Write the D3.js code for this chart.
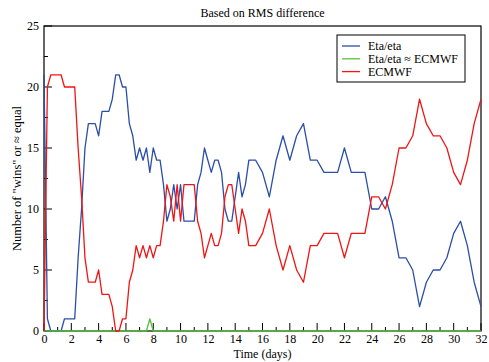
<!DOCTYPE html>
<html><head><meta charset="utf-8">
<script src="https://cdn.jsdelivr.net/npm/d3@7"></script>
<style>body{margin:0;background:#fff}svg{display:block}text{font-family:"Liberation Serif","Times New Roman",serif;fill:#000}</style>
</head><body><svg id="c" width="489" height="362"></svg>
<script>
const days = [0,0.25,0.5,0.75,1,1.25,1.5,1.75,2,2.25,2.5,2.75,3,3.25,3.5,3.75,4,4.25,4.5,4.75,5,5.25,5.5,5.75,6,6.25,6.5,6.75,7,7.25,7.5,7.75,8,8.25,8.5,8.75,9,9.25,9.5,9.75,10,10.25,10.5,10.75,11,11.25,11.5,11.75,12,12.25,12.5,12.75,13,13.25,13.5,13.75,14,14.25,14.5,14.75,15,
  15.5,16,16.5,17,17.5,18,18.5,19,19.5,20,20.5,21,21.5,22,22.5,23,23.5,24,24.5,25,25.5,26,26.5,27,27.5,28,28.5,29,29.5,30,30.5,31,31.5,32];
const etaEta = [21,1,0,0,0,0,1,1,1,1,6,10,15,17,17,17,16,18,18,18,19,21,21,20,20,17,16,14,15,14,15,13,15,14,14,12,9,10,12,10,12,9,9,9,9,12,13,15,14,13,14,14,13,10,9,9,11,13,11,12,14,
  14,13,11,14,16,14,16,17,14,14,13,13,13,15,13,13,13,10,10,11,9,6,6,5,2,4,5,5,6,8,9,7,4,2];
const equalVals = [0,0,0,0,0,0,0,0,0,0,0,0,0,0,0,0,0,0,0,0,0,0,0,0,0,0,0,0,0,0,0,1,0,0,0,0,0,0,0,0,0,0,0,0,0,0,0,0,0,0,0,0,0,0,0,0,0,0,0,0,0,
  0,0,0,0,0,0,0,0,0,0,0,0,0,0,0,0,0,0,0,0,0,0,0,0,0,0,0,0,0,0,0,0,0,0];
const ecmwf = [0,20,21,21,21,21,20,20,20,20,15,11,6,4,4,4,5,3,3,3,2,0,0,1,1,4,5,7,6,7,6,7,6,7,7,9,12,11,9,12,9,12,12,12,12,9,8,6,7,8,7,7,8,11,12,12,10,8,10,9,7,
  7,8,10,7,5,7,5,4,7,7,8,8,8,6,8,8,8,11,11,10,12,15,15,16,19,17,16,16,15,13,12,14,17,19];
const seriesNames = ["Eta/eta","Eta/eta \u2248 ECMWF","ECMWF"];
const seriesColors = ["#2b4ea6","#55c040","#f01515"];
const xTicks = [0,2,4,6,8,10,12,14,16,18,20,22,24,26,28,30,32];
const yTicks = [0,5,10,15,20,25];
const titleText = "Based on RMS difference";
const xLabel = "Time (days)";
const yLabel = "Number of \"wins\" or \u2248 equal";

const svg = d3.select("#c");
const L=44, R=481, T=26, B=331;
const x = d3.scaleLinear().domain([0,32]).range([L,R]);
const y = d3.scaleLinear().domain([0,25]).range([B,T]);

// frame
svg.append("rect").attr("x",L).attr("y",T).attr("width",R-L).attr("height",B-T)
  .attr("fill","none").attr("stroke","#000").attr("stroke-width",1.2);

// x axis ticks (inward)
const xa = d3.axisBottom(x).tickValues(xTicks).tickSize(0).tickFormat(d3.format("d"));
const gx = svg.append("g").attr("transform",`translate(0,${B})`).call(xa);
gx.select(".domain").remove();
gx.selectAll("text").attr("font-size",12).attr("font-family","Liberation Serif").attr("dy",null).attr("y",12);
svg.append("g").selectAll("line").data(d3.range(0,33,1)).join("line")
  .attr("x1",d=>x(d)).attr("x2",d=>x(d)).attr("y1",B).attr("y2",d=>B-(d%2===0?8:4))
  .attr("stroke","#000").attr("stroke-width",1);

const ya = d3.axisLeft(y).tickValues(yTicks).tickSize(0).tickPadding(5);
const gy = svg.append("g").attr("transform",`translate(${L},0)`).call(ya);
gy.select(".domain").remove();
gy.selectAll("text").attr("font-size",12).attr("font-family","Liberation Serif");
svg.append("g").selectAll("line").data(d3.range(0,25.1,2.5)).join("line")
  .attr("x1",L).attr("x2",d=>L+(d%5===0?8:4)).attr("y1",d=>y(d)).attr("y2",d=>y(d))
  .attr("stroke","#000").attr("stroke-width",1);

// lines
const allSeries=[etaEta,equalVals,ecmwf];
const line = d3.line().x((d,i)=>x(days[i])).y(d=>y(d));
allSeries.forEach((s,k)=>{
  svg.append("path").datum(s).attr("d",line).attr("fill","none")
    .attr("stroke",seriesColors[k]).attr("stroke-width",1.3).attr("stroke-linejoin","round");
});

// title, labels
svg.append("text").attr("x",(L+R)/2).attr("y",17).attr("text-anchor","middle").attr("font-size",12).text(titleText);
svg.append("text").attr("x",(L+R)/2).attr("y",357.5).attr("text-anchor","middle").attr("font-size",12).text(xLabel);
svg.append("text").attr("transform",`translate(21,${(T+B)/2}) rotate(-90)`).attr("text-anchor","middle").attr("font-size",12.5).text(yLabel);

// legend
const lg = svg.append("g");
lg.append("rect").attr("x",337).attr("y",35).attr("width",128).attr("height",47)
  .attr("fill","#fff").attr("stroke","#000").attr("stroke-width",1);
seriesNames.forEach((n,k)=>{
  const yy = 46 + k*12.8;
  lg.append("line").attr("x1",342).attr("x2",360).attr("y1",yy).attr("y2",yy)
    .attr("stroke",seriesColors[k]).attr("stroke-width",1.3);
  lg.append("text").attr("x",368).attr("y",yy+4).attr("font-size",12).text(n);
});
</script></body></html>
